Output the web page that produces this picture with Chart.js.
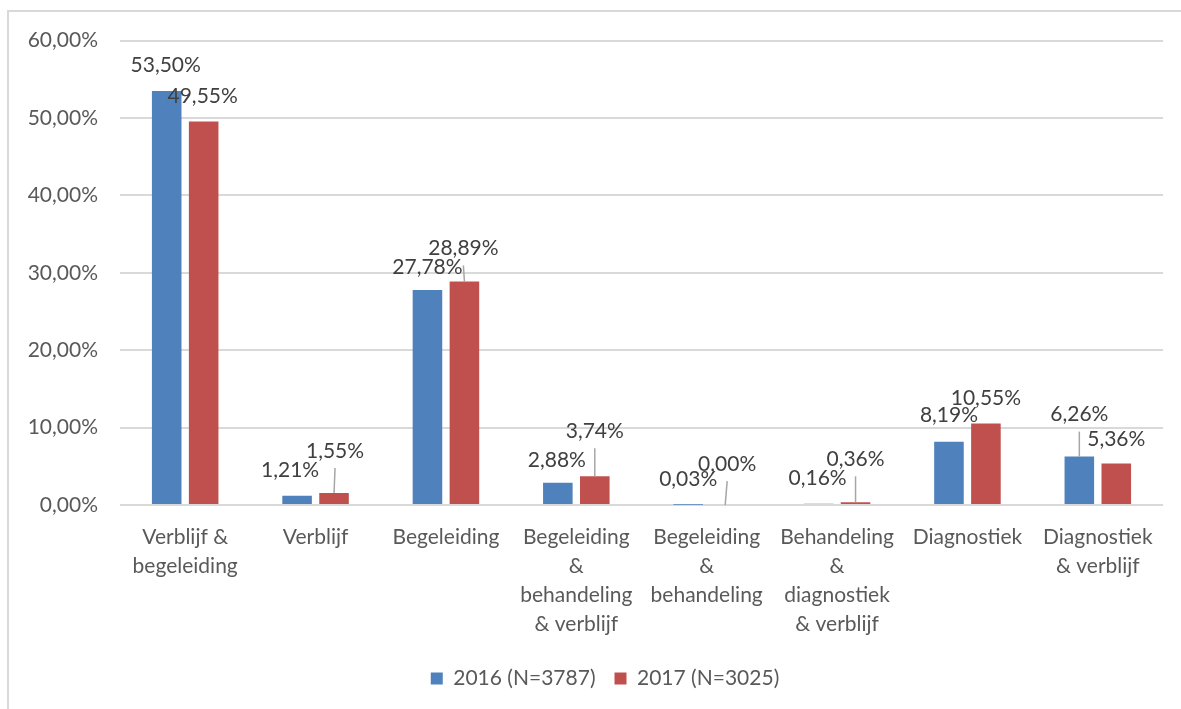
<!DOCTYPE html>
<html>
<head>
<meta charset="utf-8">
<script src="https://cdn.jsdelivr.net/npm/chart.js@4/dist/chart.umd.min.js"></script>
<style>
  html, body { margin: 0; padding: 0; background: #ffffff; overflow: hidden; }
  #frame { position: absolute; left: 7px; top: 10px; width: 1240px; height: 720px;
           border-left: 2px solid #d9d9d9; border-top: 2px solid #d9d9d9; }
  #c { position: absolute; left: 0; top: -6px; }
</style>
</head>
<body>
<div id="frame"><canvas id="c" width="1236" height="700"></canvas></div>
<script>
// ---- data ----
const categories = [
  ["Verblijf &", "begeleiding"],
  ["Verblijf"],
  ["Begeleiding"],
  ["Begeleiding", "&", "behandeling", "& verblijf"],
  ["Begeleiding", "&", "behandeling"],
  ["Behandeling", "&", "diagnostiek", "& verblijf"],
  ["Diagnostiek"],
  ["Diagnostiek", "& verblijf"]
];
const seriesNames = ["2016 (N=3787)", "2017 (N=3025)"];
const values2016 = [53.50, 1.21, 27.78, 2.88, 0.03, 0.16, 8.19, 6.26];
const values2017 = [49.55, 1.55, 28.89, 3.74, 0.00, 0.36, 10.55, 5.36];
const yTicks = [0, 10, 20, 30, 40, 50, 60];

// ---- label placement (style) ----
const labelOffsets = [
  [[-1,-26],[-7,-25],[0,-23],[-1,-23],[0,-26],[-1,-26],[0,-26],[0,-42]],
  [[-1,-25],[1,-42],[-1,-33],[0,-45],[2,-41],[0,-43],[0,-25],[0,-24]]
];
const leaders = [
  [false,false,false,false,false,false,false,true],
  [false,true,true,true,true,true,false,false]
];

const FONT = "Lato, 'Open Sans', sans-serif";
const TXT = "#595959";
const FS = 21;
const fmt = v => v.toFixed(2).replace('.', ',') + '%';

const labelPlugin = {
  id: 'barLabels',
  afterLayout(chart) {
    if (chart.legend) { chart.legend.left += 38; }
  },
  afterDatasetsDraw(chart) {
    const ctx = chart.ctx;
    ctx.save();
    ctx.font = FS + "px " + FONT;
    ctx.textAlign = 'center';
    ctx.textBaseline = 'middle';
    chart.data.datasets.forEach((ds, i) => {
      const meta = chart.getDatasetMeta(i);
      meta.data.forEach((bar, j) => {
        const off = labelOffsets[i][j];
        const lx = bar.x + off[0];
        const ly = bar.y + off[1];
        if (leaders[i][j]) {
          ctx.strokeStyle = '#a6a6a6';
          ctx.lineWidth = 1.5;
          ctx.beginPath();
          ctx.moveTo(lx, ly + 17);
          ctx.lineTo(bar.x, bar.y);
          ctx.stroke();
        }
        ctx.fillStyle = '#404040';
        ctx.fillText(fmt(ds.data[j]), lx, ly);
      });
    });
    ctx.restore();
  }
};

new Chart(document.getElementById('c'), {
  type: 'bar',
  data: {
    labels: categories,
    datasets: [
      { label: seriesNames[0], data: values2016, backgroundColor: '#4f81bd', borderColor: '#4f81bd', borderWidth: 0,
        categoryPercentage: 0.567, barPercentage: 0.8 },
      { label: seriesNames[1], data: values2017, backgroundColor: '#c0504d', borderColor: '#c0504d', borderWidth: 0,
        categoryPercentage: 0.567, barPercentage: 0.8 }
    ]
  },
  options: {
    responsive: false,
    animation: false,
    devicePixelRatio: 1,
    layout: { padding: { top: 13, right: 82, bottom: 7, left: 0 } },
    plugins: {
      legend: {
        position: 'bottom',
        labels: { boxWidth: 12, boxHeight: 12, padding: 19, color: TXT, font: { family: FONT, size: FS } }
      },
      tooltip: { enabled: false }
    },
    scales: {
      x: {
        afterFit(scale) { scale.height -= 8; },
        grid: { display: false, drawTicks: false },
        border: { display: false },
        ticks: { color: TXT, font: { family: FONT, size: FS, lineHeight: 1.38 }, padding: 18, maxRotation: 0, autoSkip: false }
      },
      y: {
        min: 0, max: 60,
        afterFit(scale) { scale.width = 111; },
        afterBuildTicks(scale) { scale.ticks = yTicks.map(v => ({ value: v })); },
        grid: { color: '#d9d9d9', lineWidth: 2, drawTicks: false },
        border: { display: false },
        ticks: { color: TXT, font: { family: FONT, size: FS }, padding: 22, callback: v => fmt(v) }
      }
    }
  },
  plugins: [labelPlugin]
});
</script>
</body>
</html>
